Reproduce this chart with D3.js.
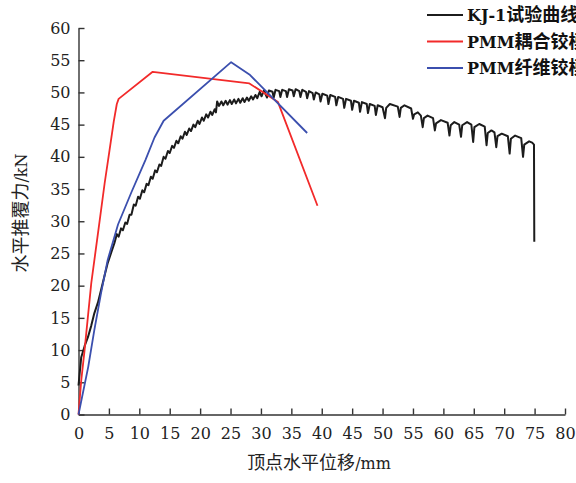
<!DOCTYPE html>
<html>
<head>
<meta charset="utf-8">
<script src="https://cdn.jsdelivr.net/npm/d3@7"></script>
<style>
  body { margin: 0; background: #fff; }
  svg { display: block; }
  .tick text { font-family: "DejaVu Serif", serif; font-size: 16px; fill: #222; }
</style>
</head>
<body>
<svg id="chart" width="576" height="483"></svg>
<script>
// axis ticks
var xTicks = d3.range(0, 81, 5);
var yTicks = d3.range(0, 61, 5);

// series names
var seriesNames = ["KJ-1试验曲线", "PMM耦合铰模型", "PMM纤维铰模型"];

// test curve (displacement mm, force kN)
var testCurve = [
  [0,4.5],[0.45,8.9],[1.0,10.6],[1.55,12.0],[2.1,13.8],[2.6,15.7],[3.2,17.4],[3.7,19.3],[4.3,21.6],[4.8,23.5],[5.4,25.2],[5.9,26.6],
  [6.3,28.0],[6.6,27.6],[7.0,28.9],[7.3,28.6],[7.7,29.8],[8.0,29.6],[8.4,31.0],[8.7,31.0],[9.1,32.6],[9.4,32.4],[9.8,33.8],[10.1,33.5],
  [10.5,34.8],[10.8,34.5],[11.2,35.8],[11.5,35.6],[11.9,36.9],[12.2,36.6],[12.6,37.9],[12.9,37.6],[13.3,38.8],[13.6,38.6],[14.0,40.0],
  [14.3,39.7],[14.7,40.9],[15.0,40.6],[15.4,41.7],[15.7,41.4],[16.1,42.5],[16.4,42.1],[16.8,43.2],[17.1,42.8],[17.5,43.9],[17.8,43.4],
  [18.2,44.4],[18.5,44.0],[18.9,45.0],[19.2,44.6],[19.6,45.6],[19.9,45.1],[20.3,46.1],[20.6,45.6],[21.0,46.6],[21.3,46.1],[21.7,47.0],
  [22.0,46.5],[22.4,47.4],[22.6,46.9],[22.8,48.6],[23.1,47.9],[23.5,48.6],[23.8,48.0],[24.2,48.7],[24.5,48.1],[24.9,48.8],[25.2,48.2],
  [25.6,48.9],[25.9,48.3],[26.3,49.0],[26.6,48.4],[27.0,49.1],[27.3,48.5],[27.7,49.2],[28.0,48.7],[28.4,49.4],[28.7,48.9],[29.1,49.6],
  [29.4,49.1],[29.8,50.1],[30.1,49.4],[30.5,50.3],
  [31.0,49.2],[31.3,50.3],[31.9,50.1],[32.1,49.2],[32.4,50.4],[33.0,50.2],[33.2,49.3],[33.5,50.4],[34.1,50.2],
  [34.3,49.3],[34.6,50.5],[35.2,50.3],[35.4,49.4],[35.7,50.5],[36.3,50.2],[36.5,49.3],[36.8,50.4],[37.4,50.1],
  [37.6,49.1],[37.9,50.2],[38.5,49.9],[38.7,48.9],[39.0,50.0],[39.6,49.7],[39.8,48.6],[40.1,49.8],[40.9,49.5],
  [41.1,48.2],[41.4,49.6],[42.2,49.3],[42.4,48.0],[42.7,49.3],[43.5,49.0],[43.7,47.6],[44.0,49.0],[44.8,48.7],
  [45.0,47.3],[45.3,48.7],[46.1,48.4],[46.3,47.0],[46.6,48.5],[47.4,48.2],[47.6,46.8],[47.9,48.2],[48.7,47.9],
  [48.9,46.5],[49.2,48.0],[50.0,47.7],
  [50.4,46.0],[50.6,47.6],[51.2,48.2],[52.5,47.8],[52.8,46.2],[53.0,47.6],[53.6,48.0],[54.7,47.5],
  [55.0,45.9],[55.2,46.6],[55.8,46.9],[56.3,46.4],[56.6,44.6],[56.8,46.0],[57.4,46.4],[58.3,46.0],
  [58.6,44.1],[58.8,45.2],[59.6,45.7],[60.7,45.3],[61.0,43.3],[61.2,44.9],[61.8,45.4],[62.6,45.0],
  [62.9,43.1],[63.1,44.9],[63.9,45.4],[64.6,45.0],[64.9,42.3],[65.1,44.6],[65.9,45.1],[66.8,44.7],
  [67.1,41.8],[67.3,43.7],[67.9,44.1],[68.4,43.8],[68.7,41.5],[68.9,43.2],[69.6,43.6],[70.6,43.2],
  [70.9,40.5],[71.1,42.8],[71.8,43.3],[72.8,42.9],[73.1,40.0],[73.3,41.9],[74.1,42.4],[74.6,42.2],
  [74.9,41.9],[74.95,26.8]
];

// PMM coupled hinge model
var coupledCurve = [
  [0,0],[0.45,5.3],[1.0,10.0],[2.1,20.4],[3.2,28.1],[4.3,35.9],[5.1,41.0],[5.8,45.5],[6.3,48.2],[6.6,49.0],
  [12.2,53.2],[28.1,51.4],[32.8,48.5],[39.3,32.4]
];

// PMM fiber hinge model
var fiberCurve = [
  [0,0],[1.6,7.4],[2.6,13.1],[3.7,18.8],[4.8,24.0],[6.5,29.5],[8.7,34.5],[11.0,39.5],[12.5,43.0],[14.0,45.6],
  [25.1,54.7],[28.1,52.8],[37.6,43.7]
];

var colors = ["#1c1c1c", "#f22a2a", "#3b4fae"];
var widths = [2, 1.8, 1.8];

var svg = d3.select("#chart");

var x = d3.scaleLinear().domain([0, 80]).range([78.5, 565]);
var y = d3.scaleLinear().domain([0, 60]).range([414.5, 28]);

var line = d3.line()
  .x(function(d) { return x(d[0]); })
  .y(function(d) { return y(d[1]); });

// axes
svg.append("g")
  .attr("transform", "translate(0," + y(0) + ")")
  .call(d3.axisBottom(x).tickValues(xTicks).tickSizeInner(-6).tickSizeOuter(0).tickPadding(13));

svg.append("g")
  .attr("transform", "translate(" + x(0) + ",0)")
  .call(d3.axisLeft(y).tickValues(yTicks).tickSizeInner(-6).tickSizeOuter(0).tickPadding(8));

svg.selectAll(".domain, .tick line")
  .attr("stroke", "#333")
  .attr("stroke-width", 1.4);

// curves (test curve underneath)
[testCurve, coupledCurve, fiberCurve].forEach(function(data, i) {
  svg.append("path")
    .datum(data)
    .attr("fill", "none")
    .attr("stroke", colors[i])
    .attr("stroke-width", widths[i])
    .attr("stroke-linejoin", "round")
    .attr("d", line);
});

// mixed latin / chinese text
function mixedText(sel, parts) {
  parts.forEach(function(p) {
    sel.append("tspan")
      .attr("font-family", p[1] ? "'Noto Sans CJK SC', sans-serif" : "'DejaVu Serif', serif")
      .attr("font-size", p[1] ? 18 : 16)
      .text(p[0]);
  });
}

// axis titles
var xTitle = svg.append("text")
  .attr("x", 319).attr("y", 469)
  .attr("text-anchor", "middle")
  .attr("fill", "#222");
mixedText(xTitle, [["顶点水平位移", true], ["/mm", false]]);

var yTitle = svg.append("text")
  .attr("transform", "translate(27,213) rotate(-90)")
  .attr("text-anchor", "middle")
  .attr("fill", "#222");
mixedText(yTitle, [["水平推覆力", true], ["/kN", false]]);

// legend (runs off the right edge, as in the source figure)
var legendParts = [
  [["KJ-1", false], ["试验曲线", true]],
  [["PMM", false], ["耦合铰模型", true]],
  [["PMM", false], ["纤维铰模型", true]]
];

var legend = svg.append("g");
legendParts.forEach(function(parts, i) {
  var ly = 15 + i * 26.5;
  legend.append("line")
    .attr("x1", 427).attr("x2", 463)
    .attr("y1", ly).attr("y2", ly)
    .attr("stroke", colors[i])
    .attr("stroke-width", 2.2);
  var t = legend.append("text")
    .attr("x", 467).attr("y", ly + 6)
    .attr("fill", "#111")
    .attr("font-weight", "bold");
  mixedText(t, parts);
});
</script>
</body>
</html>
